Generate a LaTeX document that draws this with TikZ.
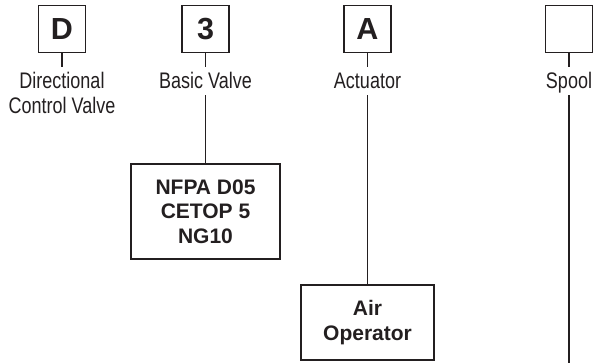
\documentclass[tikz,border=0pt]{standalone}
\usepackage{fontspec}
\setmainfont{Liberation Sans}
\newfontfamily\condfont[FakeStretch=0.80]{Liberation Sans}
\definecolor{ink}{HTML}{231F20}
\tikzset{
  letterbox/.style={draw=ink, line width=1.7pt, minimum size=47pt, inner sep=0pt,
    font=\fontsize{30.5}{30.5}\selectfont\bfseries, text=ink},
  lbl/.style={font=\condfont\fontsize{22.5}{22.5}\selectfont, text=ink, text height=16pt,
    text depth=0pt, inner xsep=0pt, inner ysep=6pt, anchor=base},
  specbox/.style={draw=ink, line width=1.7pt, inner sep=0pt, align=center,
    font=\fontsize{21}{24.5}\selectfont\bfseries, text=ink},
  conn/.style={draw=ink, line width=1.5pt}
}
\begin{document}
\begin{tikzpicture}[x=1pt,y=-1pt]
\useasboundingbox (0,0) rectangle (593,363);
% top boxes
\node[letterbox] (bD) at (62,29) {D};
\node[letterbox] (b3) at (205.5,29) {3};
\node[letterbox] (bA) at (367.5,29) {A};
\node[letterbox] (bS) at (569,29) {};
% labels
\node[lbl] (ld1) at (62,89) {Directional};
\node[lbl] (ld2) at (62,114) {Control Valve};
\node[lbl] (l3) at (205.5,89) {Basic Valve};
\node[lbl] (lA) at (367.5,89) {Actuator};
\node[lbl] (lS) at (569,89) {Spool};
% spec boxes
\node[specbox, minimum width=149pt, minimum height=95pt] (nf) at (205.5,211.5) {NFPA D05\\CETOP 5\\NG10};
\node[specbox, minimum width=133pt, minimum height=75pt] (ao) at (367.5,322.5) {Air\\Operator};
\coordinate (sEnd) at (569,363);
% connectors
\draw[conn] (bD.south) -- (ld1.north);
\draw[conn] (b3.south) -- (l3.north);
\draw[conn] (bA.south) -- (lA.north);
\draw[conn] (bS.south) -- (lS.north);
\draw[conn] (l3.south) -- (nf.north);
\draw[conn] (lA.south) -- (ao.north);
\draw[conn] (lS.south) -- (sEnd);
\end{tikzpicture}
\end{document}
